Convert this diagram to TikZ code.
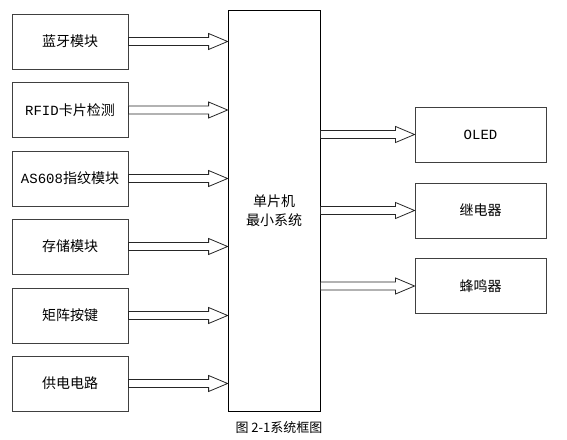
\documentclass[tikz,border=0pt]{standalone}
\usepackage{fontspec}
\setmainfont{Noto Sans CJK SC}
\newfontfamily\latfont{Liberation Mono}
\usetikzlibrary{calc}
\tikzset{
  box/.style={draw=black!75, line width=0.9bp, minimum width=116bp, minimum height=55bp, inner sep=0pt, font=\fontsize{14bp}{16bp}\selectfont},
  rbox/.style={box, minimum width=131bp},
  mcu/.style={draw=black, line width=0.8bp, minimum width=92bp, minimum height=401bp, inner sep=0pt, align=center, font=\fontsize{14bp}{19bp}\selectfont},
  arr/.style={draw=black!85, line width=0.8bp, fill=white, line join=miter},
  captext/.style={font=\fontsize{13bp}{15bp}\selectfont, inner sep=0pt}
}
\newcommand\fatarr[2]{\draw[arr] let \p1=(#1), \p2=(#2) in
  (\x1,\y1+4bp) -- (\x2-19bp,\y1+4bp) -- (\x2-19bp,\y1+8bp) -- (\x2,\y1) --
  (\x2-19bp,\y1-8bp) -- (\x2-19bp,\y1-4bp) -- (\x1,\y1-4bp) -- cycle;}
\begin{document}
\begin{tikzpicture}[x=1bp,y=-1bp]
\useasboundingbox (0,0) rectangle (567,440);
\node[box] (b1) at (70,41.5) {蓝牙模块};
\node[box] (b2) at (70,110) {{\latfont RFID}卡片检测};
\node[box] (b3) at (70,178.5) {{\latfont AS608}指纹模块};
\node[box] (b4) at (70,246.5) {存储模块};
\node[box] (b5) at (70,315.5) {矩阵按键};
\node[box] (b6) at (70,383.5) {供电电路};
\node[mcu] (m) at (274,210.5) {单片机\\最小系统};
\node[rbox] (o1) at (480.5,134.5) {{\latfont OLED}};
\node[rbox] (o2) at (480.5,210.5) {继电器};
\node[rbox] (o3) at (480.5,286) {蜂鸣器};
\node[captext] (c) at (279,428) {图 2-1系统框图};
\foreach \i in {1,...,6}{\fatarr{b\i.east}{m.west |- b\i.east}}
\foreach \i in {1,2,3}{\fatarr{m.east |- o\i.west}{o\i.west}}
\end{tikzpicture}
\end{document}
